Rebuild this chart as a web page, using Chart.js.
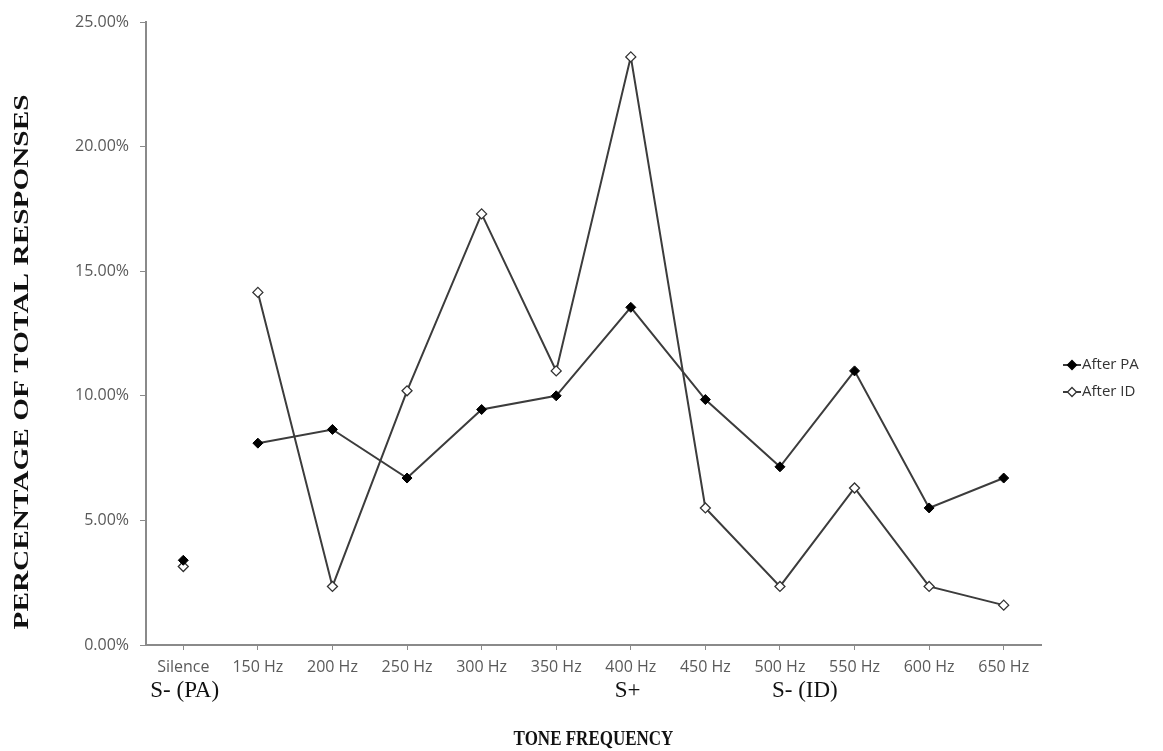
<!DOCTYPE html>
<html>
    <head>
        <meta charset="UTF-8" />
        <title>Tone frequency responses</title>
        <style type="text/css">
            html, body { margin: 0; padding: 0; background: #fff; }
            .chartBox { width: 1163px; height: 751px; }
        </style>
    </head>
    <body>
        <div class="chartBox">
            <canvas id="myChart"></canvas>
        </div>
        <script src="https://cdn.jsdelivr.net/npm/chart.js"></script>
        <script>
            // categories and values (percent)
            const categories = ['Silence', '150 Hz', '200 Hz', '250 Hz', '300 Hz', '350 Hz', '400 Hz', '450 Hz', '500 Hz', '550 Hz', '600 Hz', '650 Hz'];
            const stimulusLabels = ['S- (PA)', '', '', '', '', '', 'S+', '', 'S- (ID)', '', '', ''];
            const afterPA = [3.4, 8.1, 8.65, 6.7, 9.45, 10.0, 13.55, 9.85, 7.15, 11.0, 5.5, 6.7];
            const afterID = [3.15, 14.15, 2.35, 10.2, 17.3, 11.0, 23.6, 5.5, 2.35, 6.3, 2.35, 1.6];
            const yTicks = [0, 5, 10, 15, 20, 25];

            const lineColor = '#3c3c3c';

            // extra drawing: stimulus labels, stretched axis titles, legend
            const extrasPlugin = {
                id: 'extras',
                afterDraw(chart) {
                    const ctx = chart.ctx;
                    const x = chart.scales.x;
                    const area = chart.chartArea;
                    ctx.save();

                    // S- / S+ row under the tick labels
                    const shifts = [-33, 0, 0, 0, 0, 0, -16, 0, -8, 0, 0, 0];
                    ctx.font = '23px "Liberation Serif"';
                    ctx.fillStyle = '#111';
                    ctx.textBaseline = 'middle';
                    ctx.textAlign = 'left';
                    stimulusLabels.forEach((t, i) => {
                        if (!t) return;
                        ctx.fillText(t, x.getPixelForTick(i) + shifts[i], 691);
                    });

                    // y title, stretched along its length like the picture
                    const yTitle = 'PERCENTAGE OF TOTAL RESPONSES';
                    ctx.save();
                    ctx.font = 'bold 20px "Liberation Serif"';
                    const w = ctx.measureText(yTitle).width;
                    ctx.translate(23, 362);
                    ctx.rotate(-Math.PI / 2);
                    ctx.scale(535 / w, 1);
                    ctx.textAlign = 'center';
                    ctx.fillText(yTitle, 0, 0);
                    ctx.restore();

                    // x title, a bit taller than wide
                    ctx.save();
                    ctx.font = 'bold 17px "Liberation Serif"';
                    ctx.translate((area.left + area.right) / 2, 740);
                    ctx.scale(1, 1.25);
                    ctx.textAlign = 'center';
                    ctx.fillText('TONE FREQUENCY', 0, 0);
                    ctx.restore();

                    // legend
                    ctx.font = '15px "Open Sans"';
                    ctx.textAlign = 'left';
                    chart.data.datasets.forEach((ds, i) => {
                        const ly = 365 + i * 27;
                        const lx = area.right + 22;
                        ctx.strokeStyle = lineColor;
                        ctx.lineWidth = 2;
                        ctx.beginPath(); ctx.moveTo(lx, ly); ctx.lineTo(lx + 18, ly); ctx.stroke();
                        ctx.beginPath();
                        ctx.moveTo(lx + 9, ly - 4.5); ctx.lineTo(lx + 13.5, ly);
                        ctx.lineTo(lx + 9, ly + 4.5); ctx.lineTo(lx + 4.5, ly); ctx.closePath();
                        ctx.fillStyle = ds.pointBackgroundColor;
                        ctx.fill();
                        ctx.lineWidth = 1.3;
                        ctx.strokeStyle = ds.pointBorderColor;
                        ctx.stroke();
                        ctx.fillStyle = '#333';
                        ctx.fillText(ds.label, lx + 19, ly);
                    });
                    ctx.restore();
                }
            };

            const data = {
                labels: categories,
                datasets: [{
                    label: 'After PA',
                    data: afterPA,
                    borderColor: lineColor,
                    borderWidth: 2,
                    pointStyle: 'rectRot',
                    pointRadius: 5,
                    pointBackgroundColor: '#000',
                    pointBorderColor: '#000',
                    pointBorderWidth: 1,
                    fill: false,
                    tension: 0,
                    segment: { borderColor: c => c.p0DataIndex === 0 ? 'rgba(0,0,0,0)' : lineColor }
                }, {
                    label: 'After ID',
                    data: afterID,
                    borderColor: lineColor,
                    borderWidth: 2,
                    pointStyle: 'rectRot',
                    pointRadius: 5,
                    pointBackgroundColor: '#fff',
                    pointBorderColor: '#333',
                    pointBorderWidth: 1.3,
                    fill: false,
                    tension: 0,
                    segment: { borderColor: c => c.p0DataIndex === 0 ? 'rgba(0,0,0,0)' : lineColor }
                }]
            };

            const config = {
                type: 'line',
                data,
                plugins: [extrasPlugin],
                options: {
                    responsive: true,
                    maintainAspectRatio: false,
                    animation: false,
                    layout: { padding: { left: 10, right: 122, top: 22, bottom: 0 } },
                    plugins: {
                        tooltip: { enabled: false },
                        legend: { display: false }
                    },
                    scales: {
                        x: {
                            offset: true,
                            border: { color: '#8a8a8a', width: 2 },
                            grid: { display: true, drawOnChartArea: false, drawTicks: true, tickLength: 5, color: '#8a8a8a', offset: false },
                            ticks: { color: '#5a5a5a', font: { family: 'Open Sans', size: 16 }, padding: 8, maxRotation: 0, autoSkip: false },
                            afterFit: s => { s.height = 106; }
                        },
                        y: {
                            min: 0,
                            max: 25,
                            afterBuildTicks: s => { s.ticks = yTicks.map(v => ({ value: v })); },
                            border: { color: '#8a8a8a', width: 2 },
                            grid: { display: true, drawOnChartArea: false, drawTicks: true, tickLength: 6, color: '#8a8a8a' },
                            ticks: {
                                color: '#5a5a5a',
                                font: { family: 'Open Sans', size: 16 },
                                padding: 11,
                                callback: v => v.toFixed(2) + '%'
                            },
                            afterFit: s => { s.width = 136; }
                        }
                    }
                }
            };

            const myChart = new Chart(document.getElementById('myChart'), config);
        </script>
    </body>
</html>
